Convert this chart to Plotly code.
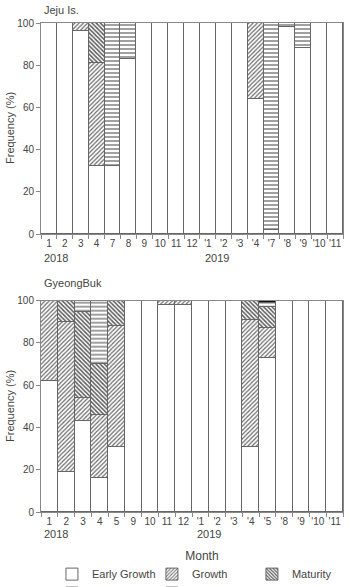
import plotly.graph_objects as go
from plotly.subplots import make_subplots

# ---- Data ----
cats_jeju = ['1', '2', '3', '4', '7', '8', '9', '10', '11', '12',
             "'1", "'2", "'3", "'4", "'7", "'8", "'9", "'10", "'11"]
early_jeju = [100, 100, 96, 32, 32, 83, 100, 100, 100, 100, 100, 100, 100, 64, 2, 98, 88, 100, 100]
growth_jeju = [0, 0, 4, 49, 0, 0, 0, 0, 0, 0, 0, 0, 0, 36, 0, 0, 0, 0, 0]
maturity_jeju = [0, 0, 0, 19, 0, 0, 0, 0, 0, 0, 0, 0, 0, 0, 0, 0, 0, 0, 0]
spawning_jeju = [0, 0, 0, 0, 68, 17, 0, 0, 0, 0, 0, 0, 0, 0, 98, 2, 12, 0, 0]
recovery_jeju = [0] * 19

cats_gb = ['1', '2', '3', '4', '5', '9', '10', '11', '12',
           "'1", "'2", "'3", "'4", "'5", "'8", "'9", "'10", "'11"]
early_gb = [62, 19, 43, 16, 31, 100, 100, 98, 98, 100, 100, 100, 31, 73, 100, 100, 100, 100]
growth_gb = [38, 71, 11, 30, 57, 0, 0, 2, 2, 0, 0, 0, 60, 14, 0, 0, 0, 0]
maturity_gb = [0, 10, 41, 24, 12, 0, 0, 0, 0, 0, 0, 0, 9, 10, 0, 0, 0, 0]
spawning_gb = [0, 0, 5, 30, 0, 0, 0, 0, 0, 0, 0, 0, 0, 2, 0, 0, 0, 0]
recovery_gb = [0, 0, 0, 0, 0, 0, 0, 0, 0, 0, 0, 0, 0, 1, 0, 0, 0, 0]

stage_names = ['Early Growth', 'Growth', 'Maturity', 'Spawning', 'Recovery']
yticks = [0, 20, 40, 60, 80, 100]

# ---- Styles ----
FONT = 'Arial, Liberation Sans, sans-serif'
EDGE = '#666666'
styles = {
    'Early Growth': dict(color='white', pattern=None),
    'Growth': dict(color='white', pattern=dict(shape='/', fgcolor='#6a6a6a', bgcolor='white', size=3, solidity=0.4)),
    'Maturity': dict(color='white', pattern=dict(shape='\\', fgcolor='#5a5a5a', bgcolor='white', size=3, solidity=0.5)),
    'Spawning': dict(color='white', pattern=dict(shape='-', fgcolor='#777777', bgcolor='white', size=4, solidity=0.35)),
    'Recovery': dict(color='#111111', pattern=None),
}

fig = make_subplots(rows=2, cols=1)

series = [
    (cats_jeju, [early_jeju, growth_jeju, maturity_jeju, spawning_jeju, recovery_jeju], 1),
    (cats_gb, [early_gb, growth_gb, maturity_gb, spawning_gb, recovery_gb], 2),
]
for cats, vals, row in series:
    for name, v in zip(stage_names, vals):
        st = styles[name]
        marker = dict(color=st['color'], line=dict(color=EDGE, width=1))
        if st['pattern']:
            marker['pattern'] = st['pattern']
        fig.add_trace(go.Bar(x=cats, y=v, name=name, marker=marker,
                             showlegend=(row == 1), legendgroup=name,
                             hoverinfo='skip'), row=row, col=1)

W, H = 350, 587
x0, x1 = 41 / W, 343 / W
top_dom = [1 - 234 / H, 1 - 23 / H]
bot_dom = [1 - 512 / H, 1 - 300.7 / H]

axis_common = dict(showline=True, linecolor='#888888', linewidth=1, mirror=True,
                   showgrid=False, zeroline=False, automargin=False,
                   tickfont=dict(family=FONT, size=10, color='#444444'))

fig.update_layout(
    width=W, height=H, margin=dict(l=0, r=0, t=0, b=0, autoexpand=False),
    template='none', barmode='stack', bargap=0,
    paper_bgcolor='white', plot_bgcolor='white',
    font=dict(family=FONT, size=11, color='#444444'),
    showlegend=True,
    legend=dict(orientation='h', xref='container', yref='container',
                x=0.577, xanchor='center', y=1 - 544 / H, yanchor='top',
                title=dict(text='Month', side='top center', font=dict(size=12, color='#444444')),
                font=dict(size=11, color='#444444'),
                entrywidth=55, traceorder='normal', tracegroupgap=0, itemclick=False),
    xaxis=dict(domain=[x0, x1], type='category', ticks='outside', ticklen=4, tickcolor='#888888',
               tickson='boundaries', tickangle=0, **axis_common),
    xaxis2=dict(domain=[x0, x1], type='category', ticks='outside', ticklen=4, tickcolor='#888888',
                tickson='boundaries', tickangle=0, **axis_common),
    yaxis=dict(domain=top_dom, range=[0, 100], tickvals=yticks, ticks='outside', ticklen=4,
               tickcolor='#888888', **axis_common),
    yaxis2=dict(domain=bot_dom, range=[0, 100], tickvals=yticks, ticks='outside', ticklen=4,
                tickcolor='#888888', **axis_common),
)

ann_font = dict(family=FONT, size=11, color='#444444')
annotations = [
    dict(text='Jeju Is.', x=42 / W, y=1 - 10 / H, xref='paper', yref='paper',
         xanchor='left', yanchor='middle', showarrow=False, font=ann_font),
    dict(text='GyeongBuk', x=42 / W, y=1 - 283 / H, xref='paper', yref='paper',
         xanchor='left', yanchor='middle', showarrow=False, font=ann_font),
    dict(text='Frequency (%)', x=10 / W, y=1 - 128 / H, xref='paper', yref='paper',
         textangle=-90, xanchor='center', yanchor='middle', showarrow=False, font=ann_font),
    dict(text='Frequency (%)', x=10 / W, y=1 - 406 / H, xref='paper', yref='paper',
         textangle=-90, xanchor='center', yanchor='middle', showarrow=False, font=ann_font),
    dict(text='2018', x=0.45, y=1 - 258 / H, xref='x', yref='paper',
         xanchor='center', yanchor='middle', showarrow=False, font=ann_font),
    dict(text='2019', x=10.55, y=1 - 258 / H, xref='x', yref='paper',
         xanchor='center', yanchor='middle', showarrow=False, font=ann_font),
    dict(text='2018', x=0.39, y=1 - 534 / H, xref='x2', yref='paper',
         xanchor='center', yanchor='middle', showarrow=False, font=ann_font),
    dict(text='2019', x=9.53, y=1 - 534 / H, xref='x2', yref='paper',
         xanchor='center', yanchor='middle', showarrow=False, font=ann_font),
]
fig.update_layout(annotations=annotations)

fig.write_html('out.html')
